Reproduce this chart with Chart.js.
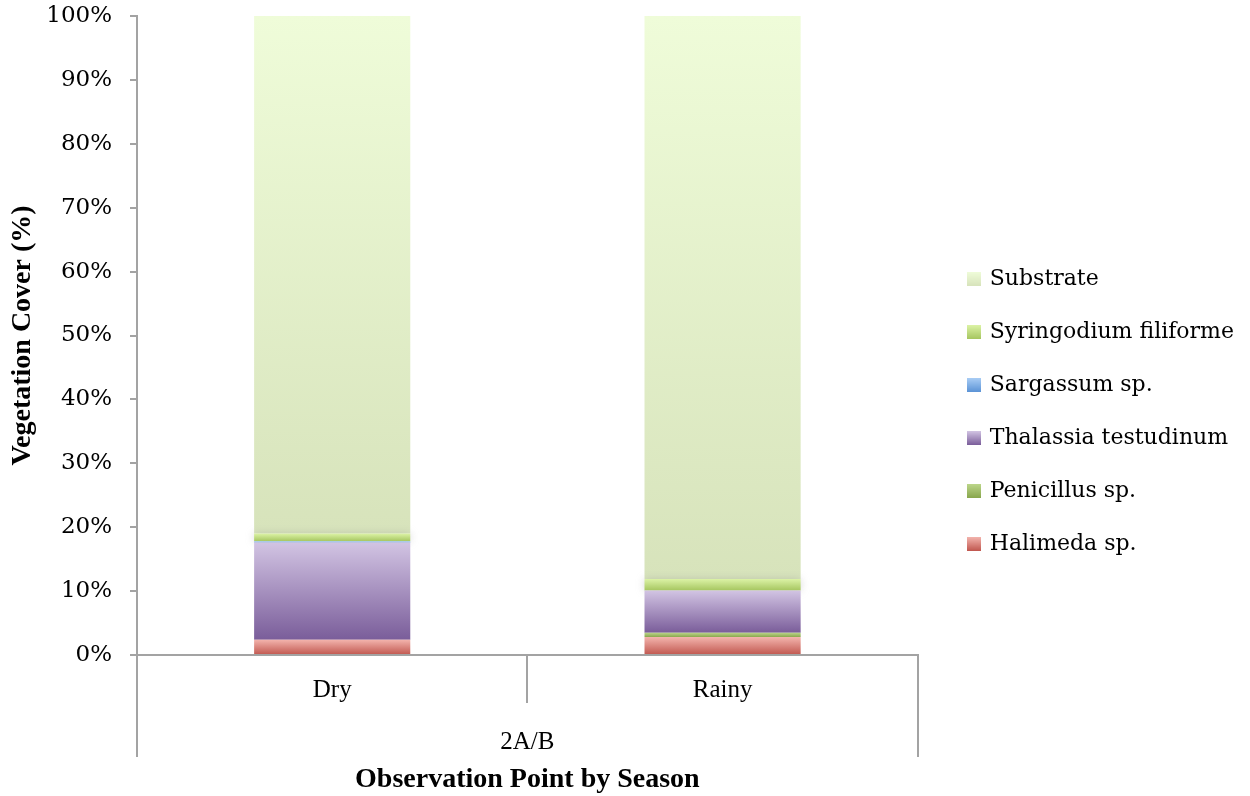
<!DOCTYPE html>
<html>
<head>
<meta charset="utf-8">
<script src="https://cdn.jsdelivr.net/npm/chart.js@4.4.1/dist/chart.umd.min.js"></script>
<style>
  html, body { margin: 0; padding: 0; background: #ffffff; }
  #wrap { width: 1250px; height: 796px; }
</style>
</head>
<body>
<div id="wrap"><canvas id="chart" width="1250" height="796"></canvas></div>
<script>
// Seasons at observation point 2A/B
const categories = ['Dry', 'Rainy'];
const groupLabels = ['2A/B'];

// Cover per taxon (% of quadrat), bottom of the stack first
const halimeda    = [2.4, 2.8];
const penicillus  = [0.0, 0.7];
const thalassia   = [15.2, 6.6];
const sargassum   = [0.2, 0.0];
const syringodium = [1.2, 1.8];
const substrate   = [81.0, 88.1];

const yTickValues = [0, 10, 20, 30, 40, 50, 60, 70, 80, 90, 100];

const SERIF = "'DejaVu Serif', serif";
const SERIF_NARROW = "'Liberation Serif', serif";
const AXIS = '#a3a3a3';

// top colour / bottom colour of each vertical gradient fill
const palette = {
  halimeda:    ['#f3b4ad', '#c0564e'],
  penicillus:  ['#bcd68a', '#88a64c'],
  thalassia:   ['#d2c4e3', '#7a5d9a'],
  sargassum:   ['#a9cdf5', '#5b93d6'],
  syringodium: ['#dcf3a6', '#a6c660'],
  substrate:   ['#effcd9', '#d7e3bb']
};

const series = [
  { label: 'Halimeda sp.',          values: halimeda,    key: 'halimeda' },
  { label: 'Penicillus sp.',        values: penicillus,  key: 'penicillus' },
  { label: 'Thalassia testudinum',  values: thalassia,   key: 'thalassia' },
  { label: 'Sargassum sp.',         values: sargassum,   key: 'sargassum' },
  { label: 'Syringodium filiforme', values: syringodium, key: 'syringodium' },
  { label: 'Substrate',             values: substrate,   key: 'substrate' }
];

// small gradient squares used as legend markers
function swatch(colors) {
  const c = document.createElement('canvas');
  c.width = 14; c.height = 14;
  const g = c.getContext('2d');
  const grad = g.createLinearGradient(0, 0, 0, 14);
  grad.addColorStop(0, colors[0]);
  grad.addColorStop(1, colors[1]);
  g.fillStyle = grad;
  g.fillRect(0, 0, 14, 14);
  return c;
}

// vertical gradient spanning one stacked segment, placed through the y scale
function segmentFill(seriesIndex) {
  const colors = palette[series[seriesIndex].key];
  return (ctx) => {
    const chart = ctx.chart;
    const y = chart.scales && chart.scales.y;
    if (!y || ctx.dataIndex === undefined || !isFinite(y.getPixelForValue(0))) return colors[1];
    let base = 0;
    for (let k = 0; k < seriesIndex; k++) base += series[k].values[ctx.dataIndex];
    const top = base + series[seriesIndex].values[ctx.dataIndex];
    const y0 = y.getPixelForValue(top);
    const y1 = y.getPixelForValue(base);
    if (!(y1 > y0)) return colors[1];
    const grad = chart.ctx.createLinearGradient(0, y0, 0, y1);
    grad.addColorStop(0, colors[0]);
    grad.addColorStop(1, colors[1]);
    return grad;
  };
}

const datasets = series.map((s, i) => ({
  label: s.label,
  data: s.values,
  backgroundColor: segmentFill(i),
  borderWidth: 0,
  barPercentage: 0.4,
  categoryPercentage: 1.0,
  stack: 'cover'
}));

const swatches = series.map(s => swatch(palette[s.key]));

// soft halo around the Syringodium band
const haloPlugin = {
  id: 'halo',
  beforeDatasetDraw(chart, args) {
    if (args.index === 4) {
      chart.ctx.save();
      chart.ctx.shadowColor = 'rgba(140,140,140,0.35)';
      chart.ctx.shadowBlur = 8;
    }
  },
  afterDatasetDraw(chart, args) {
    if (args.index === 4) chart.ctx.restore();
  }
};

new Chart(document.getElementById('chart'), {
  type: 'bar',
  data: { labels: categories, datasets },
  plugins: [haloPlugin],
  options: {
    responsive: false,
    animation: false,
    devicePixelRatio: 1,
    layout: { padding: { top: 16, left: 0, right: 6, bottom: 10 } },
    plugins: {
      tooltip: { enabled: false },
      legend: {
        position: 'right',
        align: 'center',
        reverse: true,
        maxWidth: 400,
        labels: {
          // one-line text arrays: row pitch = lineHeight + padding
          font: { family: SERIF, size: 22, lineHeight: '1px' },
          color: '#000000',
          boxWidth: 9,
          boxHeight: 14,
          padding: 52,
          usePointStyle: true,
          generateLabels(chart) {
            return chart.data.datasets.map((ds, i) => ({
              text: [ds.label],
              pointStyle: swatches[i],
              fillStyle: palette[series[i].key][1],
              strokeStyle: 'rgba(0,0,0,0)',
              lineWidth: 0,
              fontColor: '#000000',
              hidden: !chart.isDatasetVisible(i),
              datasetIndex: i
            }));
          }
        }
      }
    },
    scales: {
      x: {
        type: 'category',
        stacked: true,
        offset: true,
        position: 'bottom',
        grid: { offset: true, drawOnChartArea: false, drawTicks: true, tickLength: 48, color: AXIS, lineWidth: 2 },
        border: { display: true, color: AXIS, width: 2 },
        ticks: { font: { family: SERIF_NARROW, size: 25 }, color: '#000000', padding: -28, maxRotation: 0 },
        afterFit: s => { s.height = 48; }
      },
      x2: {
        type: 'category',
        labels: groupLabels,
        offset: true,
        position: 'bottom',
        grid: { offset: true, drawOnChartArea: false, drawTicks: true, tickLength: 54, color: AXIS, lineWidth: 2 },
        border: { display: false },
        ticks: { font: { family: SERIF_NARROW, size: 25 }, color: '#000000', padding: -30, maxRotation: 0 },
        title: {
          display: true,
          text: 'Observation Point by Season',
          font: { family: SERIF_NARROW, size: 28, weight: 'bold' },
          color: '#000000',
          padding: { top: 0, bottom: -11 }
        },
        afterFit: s => { s.height = 83; }
      },
      y: {
        type: 'linear',
        stacked: true,
        min: 0,
        max: 100,
        position: 'left',
        afterBuildTicks: s => { s.ticks = yTickValues.map(v => ({ value: v })); },
        grid: { drawOnChartArea: false, drawTicks: true, tickLength: 7, color: AXIS, lineWidth: 2 },
        border: { display: true, color: AXIS, width: 2 },
        ticks: {
          font: { family: SERIF, size: 23 },
          color: '#000000',
          padding: 18,
          callback: v => v + '%'
        },
        title: {
          display: true,
          text: 'Vegetation Cover (%)',
          font: { family: SERIF_NARROW, size: 28, weight: 'bold' },
          color: '#000000',
          padding: { top: 6, bottom: 0 }
        },
        afterFit: s => { s.width = 137; s.paddingTop = 0; s.paddingBottom = 0; }
      }
    }
  }
});
</script>
</body>
</html>
